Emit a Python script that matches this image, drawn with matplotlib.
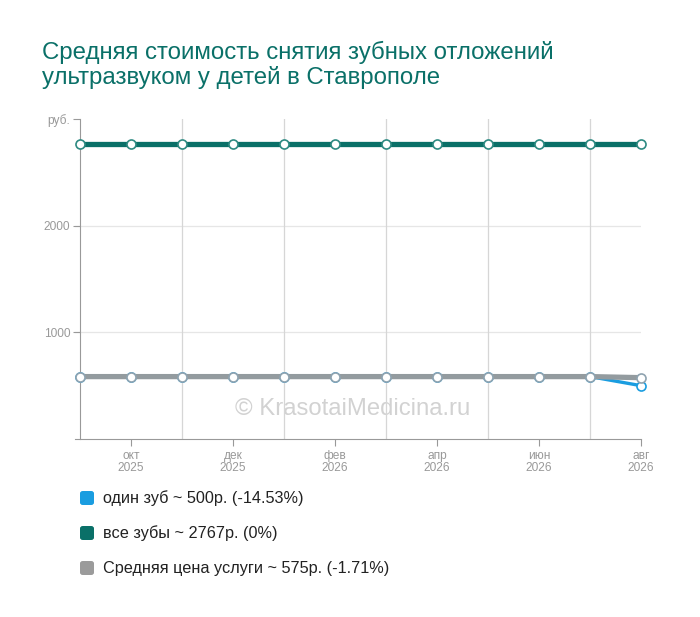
import matplotlib.pyplot as plt
from matplotlib.patches import FancyBboxPatch

plt.rcParams['font.family'] = ['Liberation Sans', 'DejaVu Sans']

# данные
months = ['сен\n2025', 'окт\n2025', 'ноя\n2025', 'дек\n2025', 'янв\n2026', 'фев\n2026',
          'мар\n2026', 'апр\n2026', 'май\n2026', 'июн\n2026', 'июл\n2026', 'авг\n2026']
one_tooth = [585, 585, 585, 585, 585, 585, 585, 585, 585, 585, 585, 500]
all_teeth = [2767] * 12
avg_price = [585, 585, 585, 585, 585, 585, 585, 585, 585, 585, 585, 575]
legend_labels = ['один зуб ~ 500р. (-14.53%)',
                 'все зубы ~ 2767р. (0%)',
                 'Средняя цена услуги ~ 575р. (-1.71%)']
colors = ['#1a9de0', '#0a7068', '#9b9b9b']
y_ticks = [1000, 2000, 3000]
y_ticklabels = ['1000', '2000', 'руб.']

fig = plt.figure(figsize=(7, 6.17), dpi=100)
ax = fig.add_axes([75 / 700, 1 - 439 / 617, (641 - 75) / 700, (439 - 119) / 617])

x = list(range(len(months)))

ax.plot(x, one_tooth, color=colors[0], lw=2.4, marker='o', ms=6.5,
        mfc='white', mec=colors[0], mew=1.2, zorder=3, clip_on=False)
ax.plot(x, avg_price, color='#939b9f', lw=3.8, marker='o', ms=6.5,
        mfc='white', mec='#8fa3b0', mew=1.2, zorder=4, clip_on=False)
ax.plot(x, all_teeth, color=colors[1], lw=3.8, marker='o', ms=6.5,
        mfc='white', mec='#2e8a82', mew=1.2, zorder=5, clip_on=False)

ax.set_xlim(-0.1, 11)
ax.set_ylim(0, 3000)

for s in ['top', 'right']:
    ax.spines[s].set_visible(False)
ax.spines['left'].set_position(('data', 0))
ax.spines['left'].set_color('#999999')
ax.spines['bottom'].set_color('#999999')

ax.set_xticks(x[1::2])
ax.set_xticklabels(months[1::2], fontsize=8.6, color='#999999', linespacing=0.95)
ax.set_xticks(x[1:], minor=True)
ax.tick_params(axis='x', which='major', length=5, color='#999999', pad=3)
ax.tick_params(axis='x', which='minor', length=0)
ax.grid(axis='x', which='minor', color='#d6d6d6', lw=0.9)

ax.set_yticks(y_ticks)
ax.set_yticklabels(y_ticklabels, fontsize=8.6, color='#999999')
ax.tick_params(axis='y', length=5, color='#999999', pad=2)
for yt in y_ticks[:-1]:
    ax.axhline(yt, color='#e6e6e6', lw=0.9, zorder=0)

ax.text(0.49, 0.095, '© KrasotaiMedicina.ru', transform=ax.transAxes,
        ha='center', va='center', fontsize=17.2, color='#d2d2d2', zorder=1)

fig.text(42 / 700, 1 - 65 / 617,
         'Средняя стоимость снятия зубных отложений\nультразвуком у детей в Ставрополе',
         fontsize=17.3, color='#0a7068', va='center', ha='left', linespacing=1.08)

for i, (lab, c) in enumerate(zip(legend_labels, colors)):
    yc = 498 + i * 35
    fig.patches.append(FancyBboxPatch((80 / 700, 1 - (yc + 7) / 617), 14 / 700, 14 / 617,
                                      boxstyle='round,pad=0,rounding_size=0.004',
                                      transform=fig.transFigure, fc=c, ec='none'))
    fig.text(103 / 700, 1 - yc / 617, lab, fontsize=11.7, color='#222222', va='center')

fig.savefig('out.png', dpi=100)
